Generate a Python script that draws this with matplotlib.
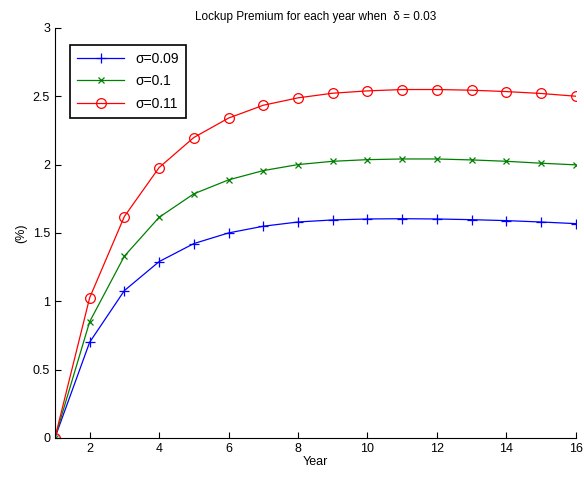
import numpy as np
import matplotlib.pyplot as plt

plt.rcParams['font.family'] = ['Liberation Sans', 'DejaVu Sans']

years = np.arange(1, 17)
prem_009 = [0, 0.70, 1.078, 1.29, 1.422, 1.50, 1.549, 1.58, 1.595, 1.602, 1.604, 1.602, 1.597, 1.59, 1.58, 1.568]
prem_010 = [0, 0.85, 1.33, 1.614, 1.786, 1.888, 1.956, 2.0, 2.024, 2.036, 2.041, 2.041, 2.034, 2.024, 2.01, 1.998]
prem_011 = [0, 1.025, 1.62, 1.978, 2.198, 2.34, 2.434, 2.488, 2.522, 2.539, 2.549, 2.549, 2.544, 2.534, 2.52, 2.5]
labels = ['σ=0.09', 'σ=0.1', 'σ=0.11']

fig = plt.figure(figsize=(5.84, 4.78), dpi=100)
ax = fig.add_axes([0.094, 0.0837, 0.892, 0.858])

ax.plot(years, prem_009, color='blue', marker='+', lw=0.9, ms=7, mew=0.9, label=labels[0])
ax.plot(years, prem_010, color='#008000', marker='x', lw=0.9, ms=5, mew=0.9, label=labels[1])
ax.plot(years, prem_011, color='red', marker='o', lw=0.9, ms=7, mew=0.9, mfc='none', label=labels[2])

ax.set_xlim(1, 16)
ax.set_ylim(0, 3)
ax.set_xticks(np.arange(2, 17, 2))
ax.set_yticks(np.arange(0, 3.01, 0.5))
ax.set_yticklabels(['0', '0.5', '1', '1.5', '2', '2.5', '3'])
ax.tick_params(direction='in', labelsize=9, length=4, width=0.8)
ax.spines['top'].set_visible(False)
ax.spines['right'].set_visible(False)

ax.set_xlabel('Year', fontsize=9, labelpad=1)
ax.set_ylabel('(%)', fontsize=9)
ax.set_title('Lockup Premium for each year when  δ = 0.03', fontsize=8.5, pad=6)

leg = ax.legend(loc='upper left', bbox_to_anchor=(0.016, 0.975), fontsize=10, fancybox=False,
                edgecolor='black', framealpha=1, handlelength=3.4, borderpad=0.5, labelspacing=0.6)
leg.get_frame().set_linewidth(1.2)

fig.savefig('out.png', dpi=100)
